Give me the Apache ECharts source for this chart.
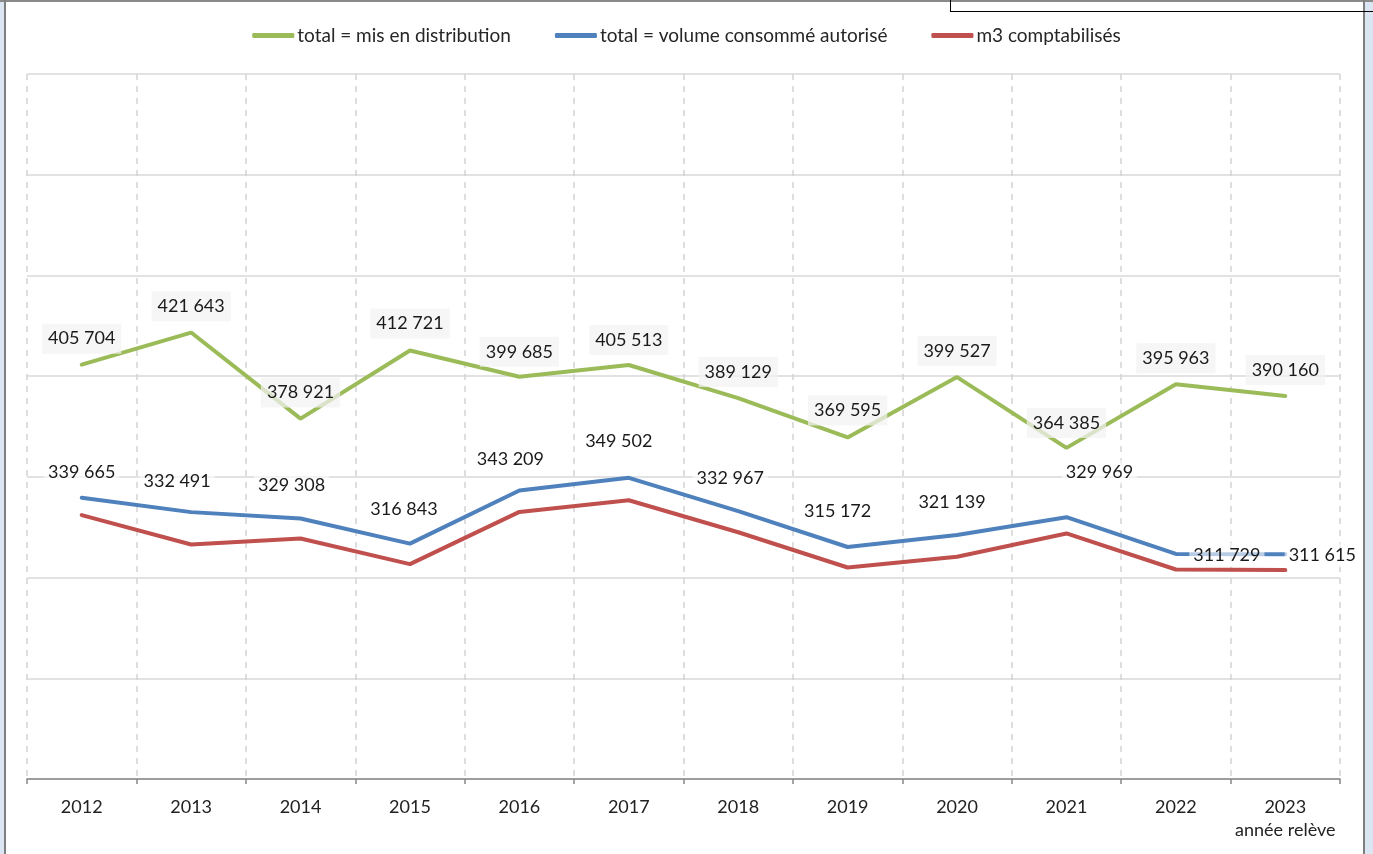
<!DOCTYPE html>
<html>
<head>
<meta charset="utf-8">
<script src="https://cdn.jsdelivr.net/npm/echarts@6/dist/echarts.min.js"></script>
<style>
  html, body { margin: 0; padding: 0; background: #fff; }
  #chart { width: 1373px; height: 854px; }
</style>
</head>
<body>
<div id="chart"></div>
<script>
// données
var years = ['2012', '2013', '2014', '2015', '2016', '2017', '2018', '2019', '2020', '2021', '2022', '2023'];
var misEnDistribution = [405704, 421643, 378921, 412721, 399685, 405513, 389129, 369595, 399527, 364385, 395963, 390160];
var volumeAutorise = [339665, 332491, 329308, 316843, 343209, 349502, 332967, 315172, 321139, 329969, 311729, 311615];
var m3Comptabilises = [331000, 316400, 319400, 306700, 332600, 338400, 322500, 305000, 310300, 321900, 304000, 303700];
var seriesNames = ['total = mis en distribution', 'total = volume consommé autorisé', 'm3 comptabilisés'];
var xAxisName = 'année relève';

// décalages des étiquettes (px)
var greenOffsets = [[0, -26], [0, -26], [0, -26], [0, -27], [0, -25], [0, -25], [0, -26], [0, -27], [0, -26], [0, -25], [0, -26], [0, -26]];
var blueOffsets = [[0, -25], [-14, -31], [-9, -33], [-6, -34], [-9, -31], [-10, -37], [-8, -33], [-10, -36], [-5, -33], [33, -45], [51, 1], [37, 1]];

var fontFamily = 'Lato, "Open Sans", sans-serif';

function withOffsets(values, offsets) {
  return values.map(function (v, i) {
    return { value: v, label: { offset: offsets[i] } };
  });
}

function fmt(v) {
  var s = String(v.value !== undefined ? v.value : v);
  return s.replace(/\B(?=(\d{3})+(?!\d))/g, ' ');
}

var chart = echarts.init(document.getElementById('chart'));

var option = {
  backgroundColor: '#fff',
  animation: false,
  textStyle: { fontFamily: fontFamily },
  color: ['#9bbb59', '#4f81bd', '#c0504d'],
  legend: {
    top: 21,
    left: 'center',
    icon: 'roundRect',
    itemWidth: 42,
    itemHeight: 5,
    itemGap: 44,
    textStyle: { fontSize: 19, color: '#262626', fontFamily: fontFamily, padding: [0, 0, 0, -2] },
    data: seriesNames
  },
  grid: { left: 27, right: 33, top: 74, bottom: 75 },
  xAxis: {
    type: 'category',
    data: years,
    boundaryGap: true,
    axisLine: { lineStyle: { color: '#868686', width: 1.5 } },
    axisTick: { show: true, interval: 0, length: 5, lineStyle: { color: '#868686', width: 1.5 } },
    axisLabel: {
      interval: 0,
      color: '#222',
      fontSize: 18,
      margin: 17,
      lineHeight: 23,
      fontFamily: fontFamily,
      formatter: function (val, idx) {
        return idx === years.length - 1 ? val + '\n' + xAxisName : val;
      }
    },
    splitLine: { show: true, interval: 0, lineStyle: { color: '#d4d4d4', type: [6, 6], width: 1.5 } }
  },
  yAxis: {
    type: 'value',
    min: 200000,
    max: 550000,
    interval: 50000,
    axisLine: { show: false },
    axisTick: { show: false },
    axisLabel: { show: false },
    splitLine: { lineStyle: { color: '#d9d9d9', width: 1.5 } }
  },
  series: [
    {
      name: seriesNames[0],
      type: 'line',
      data: withOffsets(misEnDistribution, greenOffsets),
      symbol: 'circle',
      symbolSize: 0.1,
      lineStyle: { width: 4, color: '#9bbb59', cap: 'round' },
      label: {
        show: true,
        position: 'inside',
        formatter: function (p) { return fmt(p.value); },
        fontSize: 18,
        color: '#1a1a1a',
        fontFamily: fontFamily,
        backgroundColor: 'rgba(242,242,242,0.72)',
        padding: [6, 6, 6, 6]
      },
      z: 3
    },
    {
      name: seriesNames[1],
      type: 'line',
      data: withOffsets(volumeAutorise, blueOffsets),
      symbol: 'circle',
      symbolSize: 0.1,
      lineStyle: { width: 4, color: '#4f81bd', cap: 'round' },
      label: {
        show: true,
        position: 'inside',
        formatter: function (p) { return fmt(p.value); },
        fontSize: 18,
        color: '#1a1a1a',
        fontFamily: fontFamily,
        backgroundColor: 'rgba(255,255,255,0.6)',
        padding: [3, 4, 3, 4]
      },
      z: 3
    },
    {
      name: seriesNames[2],
      type: 'line',
      data: m3Comptabilises,
      symbol: 'none',
      lineStyle: { width: 4, color: '#c0504d', cap: 'round' },
      z: 2
    }
  ],
  graphic: [
    { type: 'rect', shape: { x: 0, y: 0, width: 5, height: 854 }, style: { fill: '#dce6f2' }, silent: true },
    { type: 'rect', shape: { x: 1365, y: 0, width: 8, height: 854 }, style: { fill: '#dce6f2' }, silent: true },
    { type: 'line', shape: { x1: 0, y1: 1, x2: 1373, y2: 1 }, style: { stroke: '#8a8a8a', lineWidth: 2 }, silent: true },
    { type: 'line', shape: { x1: 5, y1: 0, x2: 5, y2: 854 }, style: { stroke: '#7f7f7f', lineWidth: 2 }, silent: true },
    { type: 'line', shape: { x1: 1364, y1: 0, x2: 1364, y2: 854 }, style: { stroke: '#7f7f7f', lineWidth: 2 }, silent: true },
    { type: 'line', shape: { x1: 950.5, y1: 0, x2: 950.5, y2: 11.5 }, style: { stroke: '#000', lineWidth: 1 }, silent: true },
    { type: 'line', shape: { x1: 950, y1: 11.5, x2: 1373, y2: 11.5 }, style: { stroke: '#000', lineWidth: 1 }, silent: true }
  ]
};

chart.setOption(option);
</script>
</body>
</html>
